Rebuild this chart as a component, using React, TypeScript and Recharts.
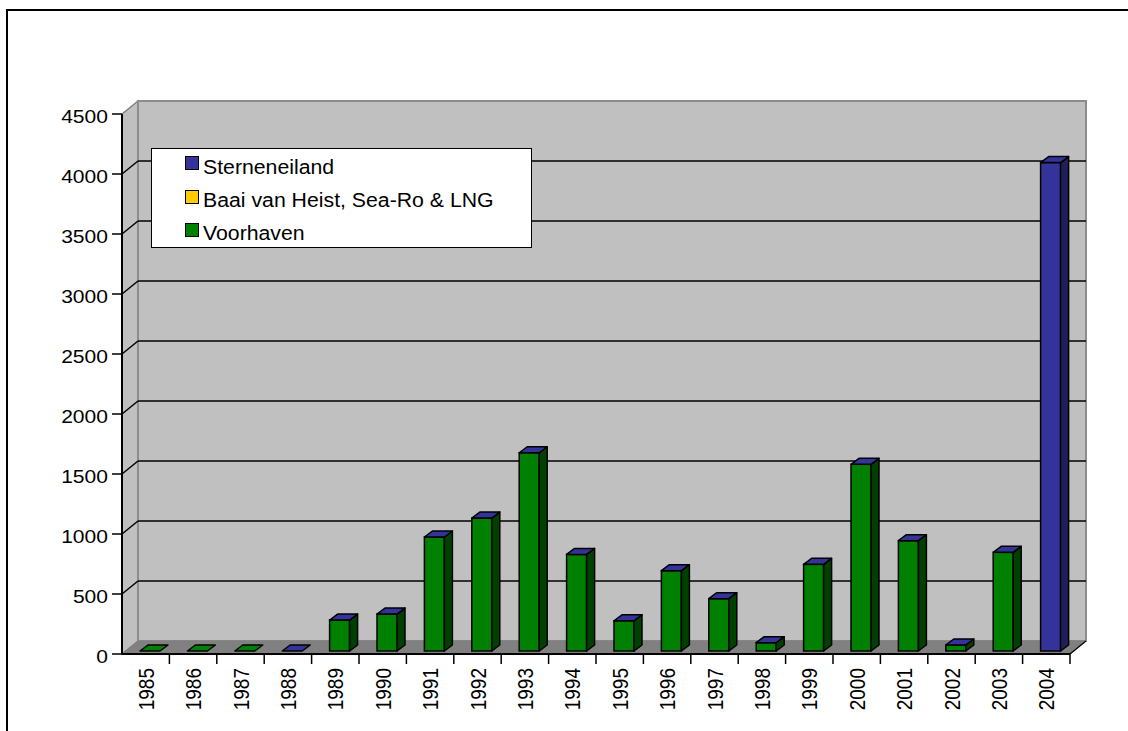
import React from 'react';
import { BarChart, Bar, XAxis, YAxis, CartesianGrid, Legend } from 'recharts';

const years = ['1985', '1986', '1987', '1988', '1989', '1990', '1991', '1992', '1993', '1994', '1995', '1996', '1997', '1998', '1999', '2000', '2001', '2002', '2003', '2004'];
const voorhaven = [0, 0, 0, 0, 258, 308, 950, 1108, 1652, 805, 252, 669, 436, 69, 722, 1556, 919, 50, 822, 0];
const baaiVanHeist = [null, null, null, null, null, null, null, null, null, null, null, null, null, null, null, null, null, null, null, null];
const sterneneiland = [null, null, null, 0, 0, 0, 0, 0, 0, 0, 0, 0, 0, 0, 0, 0, 0, 0, 0, 4070];
const yTicks = [0, 500, 1000, 1500, 2000, 2500, 3000, 3500, 4000, 4500];
const legendOrder = ['Sterneneiland', 'Baai van Heist, Sea-Ro & LNG', 'Voorhaven'];

const data = years.map((year, i) => ({
  year,
  voorhaven: voorhaven[i],
  baai: baaiVanHeist[i],
  sterneneiland: sterneneiland[i],
}));

const FONT = '"Liberation Sans", Arial, sans-serif';
const W = 1128;
const H = 731;
const PLOT = { left: 122, top: 114, width: 948, height: 540 };
const WALL_DX = 16;
const WALL_DY = -13;
const BAR_SX = 4;
const BAR_SY = -3;
const BAR_DX = 8;
const BAR_DY = -6;

const GREEN = '#008000';
const GREEN_SIDE = '#004000';
const BLUE = '#333399';
const BLUE_SIDE = '#1f1f5c';
const YELLOW = '#ffcc00';
const YELLOW_SIDE = '#806600';

function gridLine(props: any) {
  const { x1, x2, y1, index, y, height } = props;
  const L = x1;
  const R = x2;
  const T = typeof y === 'number' ? y : PLOT.top;
  const B = typeof height === 'number' ? T + height : PLOT.top + PLOT.height;
  const parts: any[] = [];
  if (index === 0) {
    parts.push(
      <polygon key="lw" points={`${L},${T} ${L + WALL_DX},${T + WALL_DY} ${L + WALL_DX},${B + WALL_DY} ${L},${B}`} fill="#c0c0c0" stroke="#808080" strokeWidth={1.5} />,
      <rect key="bw" x={L + WALL_DX} y={T + WALL_DY} width={R - L} height={B - T} fill="#c0c0c0" stroke="#8c8c8c" strokeWidth={2} />,
      <polygon key="fl" points={`${L},${B} ${R},${B} ${R + WALL_DX},${B + WALL_DY} ${L + WALL_DX},${B + WALL_DY}`} fill="#808080" stroke="#808080" strokeWidth={1} />,
      <line key="fr" x1={R} y1={B} x2={R + WALL_DX} y2={B + WALL_DY} stroke="#000" strokeWidth={1.2} />
    );
  }
  if (y1 > T + 1 && y1 < B - 1) {
    parts.push(
      <line key="d" x1={L} y1={y1} x2={L + WALL_DX} y2={y1 + WALL_DY} stroke="#000" strokeWidth={1.5} />,
      <line key="h" x1={L + WALL_DX} y1={y1 + WALL_DY} x2={R + WALL_DX} y2={y1 + WALL_DY} stroke="#000" strokeWidth={1.5} />
    );
  }
  return <g key={`grid-${index}`}>{parts}</g>;
}

function makeShape(front: string, side: string, drawTop: (p: any) => boolean) {
  return (props: any) => {
    const { x, y, width, height, payload } = props;
    if (x == null || y == null) return <g />;
    const fx = x + BAR_SX;
    const fy = y + BAR_SY;
    const w = width;
    const h = Math.max(0, height || 0);
    const els: any[] = [];
    if (h > 0.5) {
      els.push(
        <rect key="f" x={fx} y={fy} width={w} height={h} fill={front} stroke="#000" strokeWidth={1.5} />,
        <polygon key="s" points={`${fx + w},${fy} ${fx + w + BAR_DX},${fy + BAR_DY} ${fx + w + BAR_DX},${fy + h + BAR_DY} ${fx + w},${fy + h}`} fill={side} stroke="#000" strokeWidth={1.5} strokeLinejoin="round" />
      );
    }
    if (drawTop(payload)) {
      els.push(
        <polygon key="t" points={`${fx},${fy} ${fx + BAR_DX},${fy + BAR_DY} ${fx + w + BAR_DX},${fy + BAR_DY} ${fx + w},${fy}`} fill={front} stroke="#000" strokeWidth={1.5} strokeLinejoin="round" />
      );
    }
    return <g>{els}</g>;
  };
}

const greenShape = makeShape(GREEN, GREEN_SIDE, (p) => p && p.sterneneiland == null && p.baai == null);
const yellowShape = makeShape(YELLOW, YELLOW_SIDE, (p) => p && p.baai != null && p.sterneneiland == null);
const blueShape = makeShape(BLUE, BLUE_SIDE, (p) => p && p.sterneneiland != null);

const YTick = (props: any) => {
  const { x, y, payload } = props;
  return (
    <g transform={`translate(${x},${y})`}>
      <text x={0} y={0} dy={8.5} textAnchor="end" transform="scale(1.17,1)" fontSize={18} fontFamily={FONT} fill="#000">
        {payload.value}
      </text>
    </g>
  );
};

const XTick = (props: any) => {
  const { x, payload } = props;
  const band = PLOT.width / years.length;
  const axisY = PLOT.top + PLOT.height;
  return (
    <g>
      <line x1={x + band / 2} y1={axisY} x2={x + band / 2} y2={axisY + 10} stroke="#000" strokeWidth={1.5} />
      <g transform={`translate(${x},${axisY + 14}) rotate(-90)`}>
        <text x={0} y={0} dy={7} textAnchor="end" transform="scale(1,1.15)" fontSize={19} fontFamily={FONT} fill="#000">
          {payload.value}
        </text>
      </g>
    </g>
  );
};

const LegendBox = (props: any) => {
  const items = [...(props.payload || [])].sort((a: any, b: any) => legendOrder.indexOf(a.value) - legendOrder.indexOf(b.value));
  return (
    <div style={{ position: 'relative', width: 381, height: 100, border: '1px solid #000', background: '#fff', boxSizing: 'border-box', fontFamily: FONT }}>
      {items.map((it: any, i: number) => (
        <React.Fragment key={it.value}>
          <div style={{ position: 'absolute', left: 33, top: 7 + 33.5 * i, width: 14, height: 14, background: it.color, border: '1px solid #000', boxSizing: 'border-box' }} />
          <div style={{ position: 'absolute', left: 51, top: 7 + 33 * i, lineHeight: '22px', fontSize: 19.5, color: '#000', whiteSpace: 'nowrap', transform: 'scaleX(1.09)', transformOrigin: 'left center' }}>
            {it.value}
          </div>
        </React.Fragment>
      ))}
    </div>
  );
};

export default function App() {
  return (
    <div style={{ position: 'absolute', left: 0, top: 0, width: W, height: H, background: '#fff', overflow: 'hidden' }}>
      <div style={{ position: 'absolute', left: 6, top: 9, width: W - 6, height: H - 9, borderLeft: '2px solid #000', borderTop: '2px solid #000', boxSizing: 'border-box' }} />
      <div style={{ position: 'absolute', left: 0, top: 0 }}>
        <BarChart
          width={W}
          height={H}
          data={data}
          margin={{ top: PLOT.top, right: W - PLOT.left - PLOT.width, bottom: 17, left: PLOT.left - 60 }}
          barSize={20}
        >
          <CartesianGrid horizontal={gridLine} vertical={false} />
          <XAxis dataKey="year" height={60} interval={0} tickLine={false} tickSize={0} tickMargin={0} axisLine={{ stroke: '#000', strokeWidth: 2 }} tick={<XTick />} />
          <YAxis width={60} domain={[0, 4500]} ticks={yTicks} interval={0} allowDataOverflow tickSize={10} tickMargin={4} tickLine={{ stroke: '#000', strokeWidth: 1.5 }} axisLine={{ stroke: '#000', strokeWidth: 2 }} tick={<YTick />} />
          <Legend
            layout="vertical"
            align="center"
            verticalAlign="middle"
            wrapperStyle={{ position: 'absolute', left: 151, top: 148, width: 381, height: 100 }}
            content={<LegendBox />}
          />
          <Bar dataKey="voorhaven" name="Voorhaven" stackId="a" fill={GREEN} shape={greenShape} isAnimationActive={false} />
          <Bar dataKey="baai" name="Baai van Heist, Sea-Ro & LNG" stackId="a" fill={YELLOW} shape={yellowShape} isAnimationActive={false} />
          <Bar dataKey="sterneneiland" name="Sterneneiland" stackId="a" fill={BLUE} shape={blueShape} isAnimationActive={false} />
        </BarChart>
      </div>
    </div>
  );
}
